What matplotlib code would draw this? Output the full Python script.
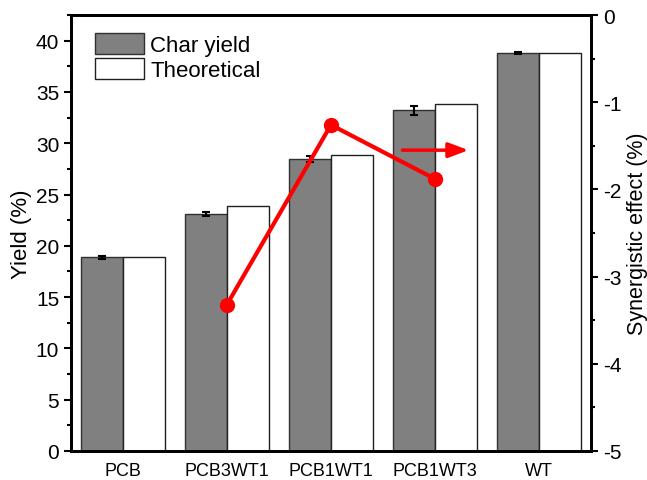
import matplotlib.pyplot as plt
from matplotlib.ticker import MultipleLocator
import numpy as np

plt.rcParams['font.family'] = ['Liberation Sans', 'DejaVu Sans']
plt.rcParams['axes.unicode_minus'] = False

samples = ['PCB', 'PCB3WT1', 'PCB1WT1', 'PCB1WT3', 'WT']
char_yield = [18.9, 23.1, 28.5, 33.2, 38.8]
char_err = [0.15, 0.15, 0.3, 0.4, 0.12]
theoretical = [18.9, 23.9, 28.9, 33.8, 38.8]

syn_samples = [1, 2, 3]  # PCB3WT1, PCB1WT1, PCB1WT3
synergy = [-3.32, -1.26, -1.88]

fig = plt.figure(figsize=(6.47, 4.81), dpi=100)
ax = fig.add_axes([0.1097, 0.0603, 0.8037, 0.9064])

x = np.arange(len(samples))
w = 0.4
ax.bar(x - w / 2, char_yield, w, color='#808080', edgecolor='#303030', linewidth=1,
       label='Char yield', zorder=2)
ax.errorbar(x - w / 2, char_yield, yerr=char_err, fmt='none', ecolor='black',
            elinewidth=1.5, capsize=3, capthick=1.5, zorder=3)
ax.bar(x + w / 2, theoretical, w, color='white', edgecolor='#202020', linewidth=1,
       label='Theoretical', zorder=2)

ax.set_xlim(-0.5, 4.5)
ax.set_ylim(0, 42.5)
ax.set_xticks(x)
ax.set_xticklabels(samples)
ax.yaxis.set_major_locator(MultipleLocator(5))
ax.yaxis.set_minor_locator(MultipleLocator(2.5))
ax.tick_params(axis='x', direction='in', length=4, width=1.5, labelsize=13, pad=8)
ax.tick_params(axis='y', which='major', direction='out', length=5, width=1.5, labelsize=15)
ax.tick_params(axis='y', which='minor', direction='out', length=3, width=1.5)
ax.set_ylabel('Yield (%)', fontsize=16, labelpad=3)
for s in ax.spines.values():
    s.set_linewidth(2)

ax.legend(loc='upper left', bbox_to_anchor=(0.02, 0.99), frameon=False, fontsize=16,
          handlelength=2.2, handleheight=1.1, handletextpad=0.3, labelspacing=0.08,
          borderaxespad=0.2)

ax2 = ax.twinx()
ax2.set_ylim(-5, 0)
ax2.plot(syn_samples, synergy, color='red', linewidth=3, marker='o', markersize=10, zorder=4)
ax2.yaxis.set_major_locator(MultipleLocator(1))
ax2.yaxis.set_minor_locator(MultipleLocator(0.5))
ax2.tick_params(axis='y', which='major', direction='out', length=5, width=1.5, labelsize=15)
ax2.tick_params(axis='y', which='minor', direction='out', length=3, width=1.5)
ax2.set_ylabel('Synergistic effect (%)', fontsize=15.5, labelpad=4)
for s in ax2.spines.values():
    s.set_linewidth(2)

ax2.annotate('', xy=(3.35, -1.55), xytext=(2.66, -1.55),
             arrowprops=dict(arrowstyle='-|>,head_length=1.2,head_width=0.45',
                             color='red', lw=2.5))

fig.savefig('out.png', dpi=100)
